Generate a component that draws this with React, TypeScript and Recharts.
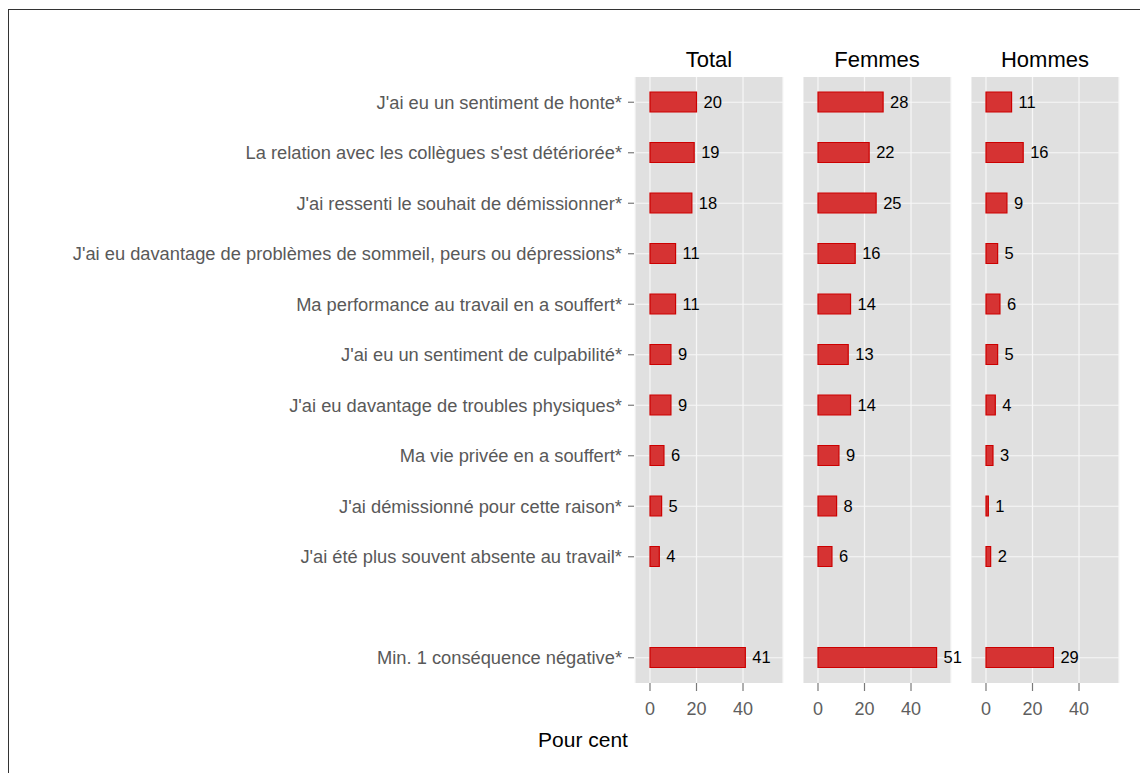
import React from "react";
import {
  Bar,
  BarChart,
  CartesianGrid,
  LabelList,
  XAxis,
  YAxis,
} from "recharts";

const categories = [
  "J'ai eu un sentiment de honte*",
  "La relation avec les collègues s'est détériorée*",
  "J'ai ressenti le souhait de démissionner*",
  "J'ai eu davantage de problèmes de sommeil, peurs ou dépressions*",
  "Ma performance au travail en a souffert*",
  "J'ai eu un sentiment de culpabilité*",
  "J'ai eu davantage de troubles physiques*",
  "Ma vie privée en a souffert*",
  "J'ai démissionné pour cette raison*",
  "J'ai été plus souvent absente au travail*",
  "",
  "Min. 1 conséquence négative*",
];

const total = [20, 19, 18, 11, 11, 9, 9, 6, 5, 4, null, 41];
const femmes = [28, 22, 25, 16, 14, 13, 14, 9, 8, 6, null, 51];
const hommes = [11, 16, 9, 5, 6, 5, 4, 3, 1, 2, null, 29];

const panels = [
  { title: "Total", values: total },
  { title: "Femmes", values: femmes },
  { title: "Hommes", values: hommes },
];

const xTicks = [0, 20, 40];

const FONT = "'Liberation Sans', Arial, sans-serif";
const PANEL_TOP = 67; // page y of chart box (plot starts 10px lower)
const PLOT_H = 606;
const PANEL_W = 148;
const LABEL_W = 625;

function CategoryTick(props: any) {
  const { x, y, payload } = props;
  if (!payload.value) return null;
  return (
    <g>
      <line x1={x + 6} x2={x + 12} y1={y} y2={y} stroke="#7a7a7a" strokeWidth={1.2} />
      <text
        x={x}
        y={y}
        dy="0.35em"
        textAnchor="end"
        fill="#595959"
        fontSize={18.3}
        fontFamily={FONT}
      >
        {payload.value}
      </text>
    </g>
  );
}

// horizontal grid only at the named categories (no line for the blank row)
const rowLines = ({ offset }: any) => {
  const band = offset.height / categories.length;
  const out: number[] = [];
  categories.forEach((c, i) => {
    if (c !== "") out.push(offset.top + band * (i + 0.5));
  });
  return out;
};

function Panel({
  values,
  withLabels,
  left,
  rightPad,
}: {
  values: (number | null)[];
  withLabels: boolean;
  left: number;
  rightPad: number;
}) {
  const data = categories.map((c, i) => ({ name: c, value: values[i] }));
  const yWidth = withLabels ? LABEL_W : 0;
  return (
    <div style={{ position: "absolute", left: left - 8, top: PANEL_TOP - 8 }}>
      <BarChart
        width={yWidth + PANEL_W + rightPad}
        height={10 + PLOT_H + 50}
        data={data}
        layout="vertical"
        margin={{ top: 10, right: rightPad, bottom: 0, left: 0 }}
      >
        <CartesianGrid
          fill="#e0e0e0"
          stroke="#f7f7f7"
          strokeWidth={1.2}
          horizontalCoordinatesGenerator={rowLines}
        />
        <XAxis
          type="number"
          domain={[-6.45, 57.2]}
          allowDataOverflow
          ticks={xTicks}
          axisLine={false}
          tickSize={8}
          tickMargin={11}
          tickLine={{ stroke: "#7a7a7a", strokeWidth: 1.2 }}
          tick={{ fill: "#5e5e5e", fontSize: 18, fontFamily: FONT }}
          height={50}
        />
        <YAxis
          type="category"
          dataKey="name"
          width={yWidth}
          hide={!withLabels}
          axisLine={false}
          tickLine={false}
          tickSize={7}
          tickMargin={6}
          interval={0}
          tick={<CategoryTick />}
        />
        <Bar
          dataKey="value"
          barSize={20}
          fill="#d63333"
          stroke="#cc0000"
          strokeWidth={1.2}
          isAnimationActive={false}
        >
          <LabelList
            dataKey="value"
            position="right"
            offset={7}
            fill="#000"
            fontSize={16.5}
            fontFamily={FONT}
          />
        </Bar>
      </BarChart>
    </div>
  );
}

const titleCenters = [709, 877, 1045];

export default function App() {
  return (
    <div style={{ position: "relative", width: 1140, height: 765, fontFamily: FONT }}>
      <div
        style={{
          position: "absolute",
          left: 0,
          top: 1,
          width: 1140,
          height: 764,
          borderTop: "1px solid #333",
          borderLeft: "1px solid #333",
          boxSizing: "border-box",
        }}
      />
      {panels.map((p, i) => (
        <div
          key={p.title}
          style={{
            position: "absolute",
            left: titleCenters[i] - 8 - 80,
            width: 160,
            top: 49 - 8,
            textAlign: "center",
            fontSize: 22,
            lineHeight: "22px",
            color: "#000",
          }}
        >
          {p.title}
        </div>
      ))}
      <Panel values={total} withLabels left={10} rightPad={30} />
      <Panel values={femmes} withLabels={false} left={803} rightPad={30} />
      <Panel values={hommes} withLabels={false} left={971} rightPad={20} />
      <div
        style={{
          position: "absolute",
          left: 583 - 8 - 100,
          width: 200,
          top: 729 - 8,
          textAlign: "center",
          fontSize: 21,
          lineHeight: "21px",
          color: "#000",
        }}
      >
        Pour cent
      </div>
    </div>
  );
}
